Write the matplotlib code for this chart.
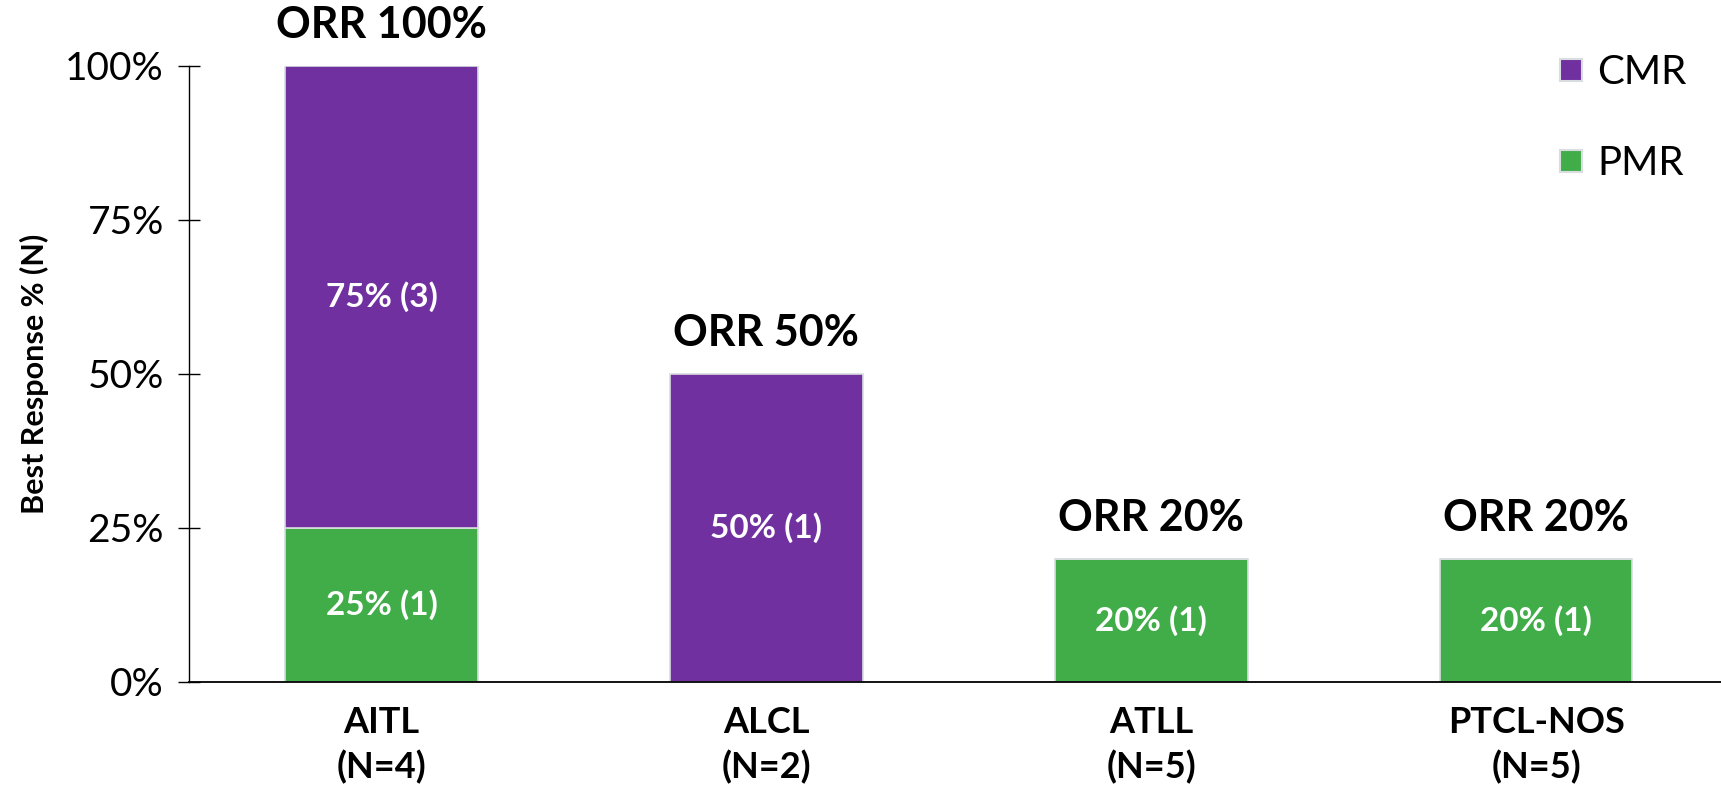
import numpy as np
import matplotlib.pyplot as plt
from matplotlib.lines import Line2D

plt.rcParams['font.family'] = ['Lato', 'DejaVu Sans']

# response rates per subtype
groups = ["AITL\n(N=4)", "ALCL\n(N=2)", "ATLL\n(N=5)", "PTCL-NOS\n(N=5)"]
pmr = [25, 0, 20, 20]
cmr = [75, 50, 0, 0]
pmr_n = [1, 0, 1, 1]
cmr_n = [3, 1, 0, 0]
orr = [100, 50, 20, 20]

purple = "#7030A0"
green = "#41AD49"
edge = "#d9dde0"

fig = plt.figure(figsize=(17.21, 7.85), dpi=100)
ax = fig.add_axes([189 / 1721, 103 / 785, (1721 - 189) / 1721, 616 / 785])

x = np.arange(len(groups))
w = 0.5
ax.bar(x, pmr, w, color=green, edgecolor=edge, linewidth=1.2)
ax.bar(x, cmr, w, bottom=pmr, color=purple, edgecolor=edge, linewidth=1.2)

# segment labels
for i in range(len(groups)):
    if pmr[i] > 0:
        ax.text(x[i], pmr[i] / 2, f"{pmr[i]}% ({pmr_n[i]})", ha="center", va="center",
                color="white", fontsize=24, fontweight="bold")
    if cmr[i] > 0:
        ax.text(x[i], pmr[i] + cmr[i] / 2, f"{cmr[i]}% ({cmr_n[i]})", ha="center", va="center",
                color="white", fontsize=24, fontweight="bold")
    ax.annotate(f"ORR {orr[i]}%", (x[i], orr[i]), xytext=(0, 15), textcoords="offset points",
                ha="center", va="bottom", fontsize=31, fontweight="bold", annotation_clip=False)

ax.set_xlim(-0.5, 3.48)
ax.set_ylim(0, 100)
ax.set_yticks([0, 25, 50, 75, 100])
ax.set_yticklabels(["0%", "25%", "50%", "75%", "100%"], fontsize=28)
ax.set_xticks(x)
ax.set_xticklabels(groups, fontsize=26, fontweight="bold", linespacing=1.4)
ax.tick_params(axis="x", length=0, pad=17)
ax.tick_params(axis="y", direction="inout", length=16, width=1, pad=10)
ax.set_ylabel("Best Response % (N)", fontsize=22, fontweight="bold", labelpad=12)

for s in ["top", "right"]:
    ax.spines[s].set_visible(False)
ax.spines["left"].set_linewidth(1)
ax.spines["bottom"].set_linewidth(1.3)

handles = [
    Line2D([], [], marker="s", linestyle="none", markersize=16, markerfacecolor=purple,
           markeredgecolor=edge, markeredgewidth=1.5),
    Line2D([], [], marker="s", linestyle="none", markersize=16, markerfacecolor=green,
           markeredgecolor=edge, markeredgewidth=1.5),
]
fig.legend(handles, ["CMR", "PMR"], loc="upper left", bbox_to_anchor=(1555 / 1721, 1 - 54 / 785),
           frameon=False, fontsize=29, labelspacing=1.35, handlelength=0.8, handletextpad=0.25,
           borderpad=0, borderaxespad=0)

fig.savefig("out.png", dpi=100)
